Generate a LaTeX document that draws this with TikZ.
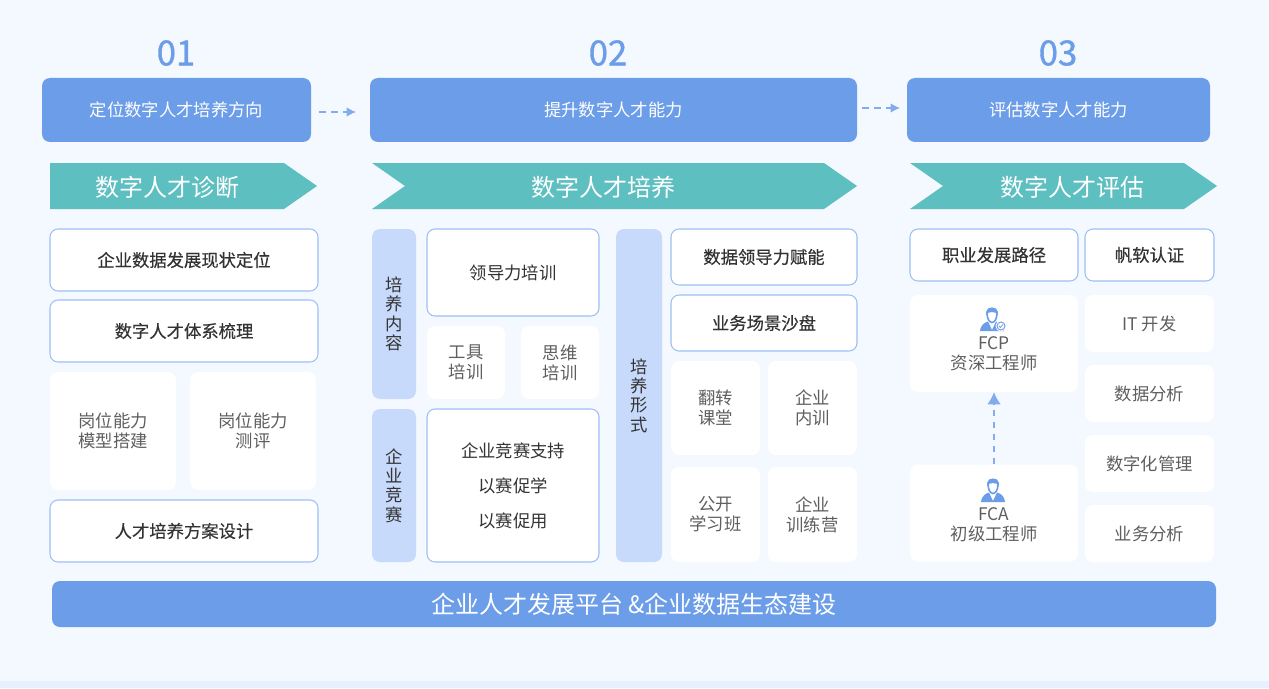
\documentclass[tikz,border=0pt]{standalone}
\usepackage{fontspec}
\setmainfont{Noto Sans CJK SC}
\newfontfamily\medf[FakeBold=0.35]{Noto Sans CJK SC}
\newfontfamily\boldf[FakeBold=1.1]{Noto Sans CJK SC}
\usetikzlibrary{arrows.meta,shapes.arrows}
\definecolor{bgc}{HTML}{F4F8FF}
\definecolor{stripc}{HTML}{E6F0FE}
\definecolor{bluec}{HTML}{6C9DE8}
\definecolor{tealc}{HTML}{5EBFC1}
\definecolor{sidec}{HTML}{C7DAFB}
\definecolor{edgec}{HTML}{9DC0F5}
\definecolor{txtd}{HTML}{333333}
\definecolor{txtg}{HTML}{5F5F5F}
\tikzset{
  x=0.75pt,y=-0.75pt,
  boxbase/.style={rounded corners=6pt,inner sep=0pt,align=center},
  headbox/.style={boxbase,fill=bluec,text=white,font=\fontsize{13pt}{16pt}\selectfont},
  linebox/.style={boxbase,fill=white,draw=edgec,line width=0.8pt,text=txtd,font=\medf\fontsize{13pt}{16pt}\selectfont},
  softbox/.style={boxbase,fill=white,text=txtg,font=\fontsize{13pt}{15pt}\selectfont},
  sidebox/.style={boxbase,fill=sidec,text=txtd,font=\fontsize{13pt}{14.5pt}\selectfont},
  bannertxt/.style={inner sep=0pt,text=white,font=\fontsize{18pt}{20pt}\selectfont},
  numtxt/.style={inner sep=0pt,text=bluec,font=\boldf\fontsize{26pt}{28pt}\selectfont},
  dashlink/.style={draw=bluec!85,line width=0.8pt,dash pattern=on 5pt off 4pt,-{Latex[length=7pt,width=7pt]}},
  iconfill/.style={fill=bluec,draw=none},
}
% name, x1, y1, x2, y2, style, text
\newcommand{\bx}[7]{\node[#6,minimum width=#4*0.75pt-#2*0.75pt,minimum height=#5*0.75pt-#3*0.75pt] (#1) at ({(#2+#4)/2},{(#3+#5)/2}) {#7};}
% person icon at centre x,y
\newcommand{\person}[2]{%
  \begin{scope}[shift={(#1,#2)}]
    \fill[iconfill] (-12,12) .. controls (-11,5) and (-7,3.5) .. (-4,2.5) -- (0,11) -- (4,2.5) .. controls (7,3.5) and (11,5) .. (12,12) -- cycle;
    \draw[bluec,line width=1.2pt,fill=white] (-5,-7) .. controls (-5,0) and (-3,3) .. (0,3.5) .. controls (3,3) and (5,0) .. (5,-7) .. controls (5,-12) and (-5,-12) .. (-5,-7) -- cycle;
    \fill[iconfill] (-6,-4) .. controls (-7,-13) and (7,-13) .. (6,-4) .. controls (4,-8) and (-4,-8) .. (-6,-4) -- cycle;
  \end{scope}}
\begin{document}
\begin{tikzpicture}
\useasboundingbox (0,0) rectangle (1269,688);
\fill[bgc] (0,0) rectangle (1269,688);
\fill[stripc] (0,681) rectangle (1269,688);

% numbers
\node[numtxt] (n1) at (176,53) {01};
\node[numtxt] (n2) at (608,53) {02};
\node[numtxt] (n3) at (1058,53) {03};

% heads
\bx{h1}{42}{78}{311}{142}{headbox}{定位数字人才培养方向}
\bx{h2}{370}{78}{857}{142}{headbox}{提升数字人才能力}
\bx{h3}{907}{78}{1210}{142}{headbox}{评估数字人才能力}
\coordinate (a1s) at (319,112);
\coordinate (a1e) at (356,112);
\coordinate (a2s) at (862,108);
\coordinate (a2e) at (900,108);
\draw[dashlink] (a1s) -- (a1e);
\draw[dashlink] (a2s) -- (a2e);

% banners
\fill[tealc] (50,163) -- (284,163) -- (317,186) -- (284,209) -- (50,209) -- cycle;
\fill[tealc] (372,163) -- (824,163) -- (857,186) -- (824,209) -- (372,209) -- (405,186) -- cycle;
\fill[tealc] (910,163) -- (1184,163) -- (1217,186) -- (1184,209) -- (910,209) -- (943,186) -- cycle;
\node[bannertxt] (b1) at (167,187) {数字人才诊断};
\node[bannertxt] (b2) at (603,187) {数字人才培养};
\node[bannertxt] (b3) at (1072,187) {数字人才评估};

% column 1
\bx{c1a}{50}{229}{318}{291}{linebox}{企业数据发展现状定位}
\bx{c1b}{50}{300}{318}{362}{linebox}{数字人才体系梳理}
\bx{c1c}{50}{372}{176}{490}{softbox}{岗位能力\\模型搭建}
\bx{c1d}{190}{372}{316}{490}{softbox}{岗位能力\\测评}
\bx{c1e}{50}{500}{318}{562}{linebox}{人才培养方案设计}

% column 2 left
\bx{s1}{372}{229}{416}{399}{sidebox}{培\\养\\内\\容}
\bx{s2}{372}{409}{416}{562}{sidebox}{企\\业\\竞\\赛}
\bx{c2a}{427}{229}{599}{316}{linebox,font=\fontsize{13pt}{16pt}\selectfont}{领导力培训}
\bx{c2b}{427}{326}{505}{399}{softbox}{工具\\培训}
\bx{c2c}{521}{326}{599}{399}{softbox}{思维\\培训}
\bx{c2d}{427}{409}{599}{562}{linebox,font=\fontsize{13pt}{26.2pt}\selectfont}{企业竞赛支持\\以赛促学\\以赛促用}

% column 2 right
\bx{s3}{616}{229}{662}{562}{sidebox}{培\\养\\形\\式}
\bx{c3a}{671}{229}{857}{285}{linebox}{数据领导力赋能}
\bx{c3b}{671}{295}{857}{351}{linebox}{业务场景沙盘}
\bx{c3c}{671}{361}{760}{455}{softbox}{翻转\\课堂}
\bx{c3d}{768}{361}{857}{455}{softbox}{企业\\内训}
\bx{c3e}{671}{467}{760}{562}{softbox}{公开\\学习班}
\bx{c3f}{768}{467}{857}{562}{softbox}{企业\\训练营}

% column 3
\bx{c4a}{910}{229}{1078}{281}{linebox}{职业发展路径}
\bx{c4b}{1085}{229}{1214}{281}{linebox}{帆软认证}
\node[softbox,minimum width=168*0.75pt,minimum height=97*0.75pt] (fcp) at (994,343.5) {};
\node[softbox,minimum width=168*0.75pt,minimum height=97*0.75pt] (fca) at (994,513) {};
\node[inner sep=0pt,align=center,text=txtg,font=\fontsize{13pt}{15pt}\selectfont] (fcpt) at (994,354) {FCP\\资深工程师};
\node[inner sep=0pt,align=center,text=txtg,font=\fontsize{13pt}{15pt}\selectfont] (fcat) at (994,525) {FCA\\初级工程师};
\person{992}{319}
\fill[white] (1001,326) circle (5.5);
\draw[bluec,line width=0.7pt] (1001,326) circle (4);
\draw[bluec,line width=0.6pt] (999,326) -- (1000.5,327.5) -- (1003,324.5);
\person{993}{490}
\draw[dashlink,-{Latex[length=9pt,width=10pt]}] (fca.north) -- (fcp.south);
\bx{d1}{1085}{295}{1214}{352}{softbox}{IT 开发}
\bx{d2}{1085}{365}{1214}{422}{softbox}{数据分析}
\bx{d3}{1085}{435}{1214}{492}{softbox}{数字化管理}
\bx{d4}{1085}{505}{1214}{562}{softbox}{业务分析}

% bottom
\bx{bot}{52}{581}{1216}{627}{headbox,font=\fontsize{18pt}{20pt}\selectfont}{企业人才发展平台 \&企业数据生态建设}
\end{tikzpicture}
\end{document}
